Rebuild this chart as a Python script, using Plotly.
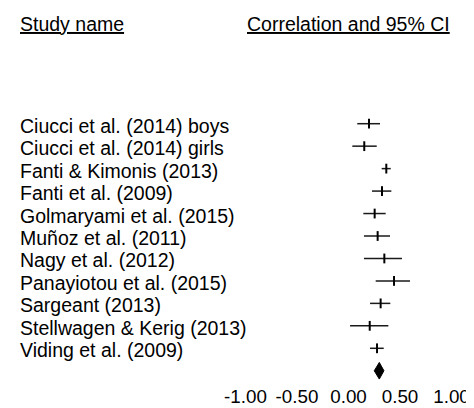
import plotly.graph_objects as go

studies = [
    "Ciucci et al. (2014) boys",
    "Ciucci et al. (2014) girls",
    "Fanti & Kimonis (2013)",
    "Fanti et al. (2009)",
    "Golmaryami et al. (2015)",
    "Muñoz et al. (2011)",
    "Nagy et al. (2012)",
    "Panayiotou et al. (2015)",
    "Sargeant (2013)",
    "Stellwagen & Kerig (2013)",
    "Viding et al. (2009)",
]
estimate = [0.199, 0.153, 0.367, 0.325, 0.254, 0.283, 0.348, 0.442, 0.312, 0.206, 0.277]
lower = [0.085, 0.037, 0.322, 0.228, 0.144, 0.150, 0.150, 0.264, 0.209, 0.015, 0.209]
upper = [0.306, 0.274, 0.410, 0.416, 0.361, 0.403, 0.519, 0.597, 0.406, 0.387, 0.342]

pooled_estimate = 0.299
pooled_lower = 0.250
pooled_upper = 0.344

tick_values = [-1.0, -0.5, 0.0, 0.5, 1.0]
tick_labels = ["-1.00", "-0.50", "0.00", "0.50", "1.00"]

FONT = "Liberation Sans, Arial, sans-serif"
FS = 19.5
TICK_FS = 18.8
rows = list(range(len(studies)))
pooled_row = len(studies)

# the page body has an 8px margin; the figure is sized to fill the rest of the window
OFF = 8
W, H = 474 - OFF, 408 - OFF
X0 = 348.5 - OFF      # pixel of value 0
XS = 103.0            # pixels per unit
Y0 = 123.7 - OFF      # pixel of the first row
YS = 22.46            # pixels per row
BOTTOM = 25
PH = H - BOTTOM

fig = go.Figure()

fig.add_trace(go.Scatter(
    x=estimate, y=rows, mode="markers",
    marker=dict(symbol="line-ns", size=7, line=dict(width=2, color="#000000"), color="#000000"),
    error_x=dict(type="data", symmetric=False,
                 array=[u - e for u, e in zip(upper, estimate)],
                 arrayminus=[e - l for e, l in zip(estimate, lower)],
                 width=0, thickness=1.5, color="#1a1a1a"),
    showlegend=False, hoverinfo="skip",
))

h = 0.37
fig.add_trace(go.Scatter(
    x=[pooled_lower, pooled_estimate, pooled_upper, pooled_estimate, pooled_lower],
    y=[pooled_row, pooled_row - h, pooled_row, pooled_row + h, pooled_row],
    mode="lines", fill="toself", fillcolor="#000000",
    line=dict(color="#000000", width=1),
    showlegend=False, hoverinfo="skip",
))

annotations = []
for name, r in zip(studies, rows):
    annotations.append(dict(
        x=(18 - OFF) / W, xref="paper", y=r, yref="y", yshift=-2, text=name, showarrow=False,
        xanchor="left", yanchor="middle", font=dict(family=FONT, size=FS, color="#000000"),
    ))
header_y = (24 - OFF - Y0) / YS
annotations.append(dict(
    x=(18 - OFF) / W, xref="paper", y=header_y, yref="y", text="Study name", showarrow=False,
    xanchor="left", yanchor="middle",
    font=dict(family=FONT, size=FS, color="#000000", lineposition="under"),
))
annotations.append(dict(
    x=0.0, xref="x", y=header_y, yref="y", text="Correlation and 95% CI", showarrow=False,
    xanchor="center", yanchor="middle",
    font=dict(family=FONT, size=FS, color="#000000", lineposition="under"),
))

fig.update_layout(
    width=W, height=H,
    margin=dict(l=0, r=0, t=0, b=BOTTOM, autoexpand=False),
    paper_bgcolor="#ffffff", plot_bgcolor="#ffffff",
    font=dict(family=FONT, size=FS, color="#000000"),
    annotations=annotations,
    xaxis=dict(range=[-X0 / XS, (W - X0) / XS], showgrid=False, zeroline=False,
               showline=False, ticks="", tickvals=tick_values, ticktext=tick_labels,
               tickfont=dict(family=FONT, size=TICK_FS, color="#000000"), automargin=False),
    yaxis=dict(range=[(PH - Y0) / YS, -Y0 / YS], showgrid=False, zeroline=False,
               showline=False, showticklabels=False, ticks="", automargin=False),
)

fig.write_html("out.html")
